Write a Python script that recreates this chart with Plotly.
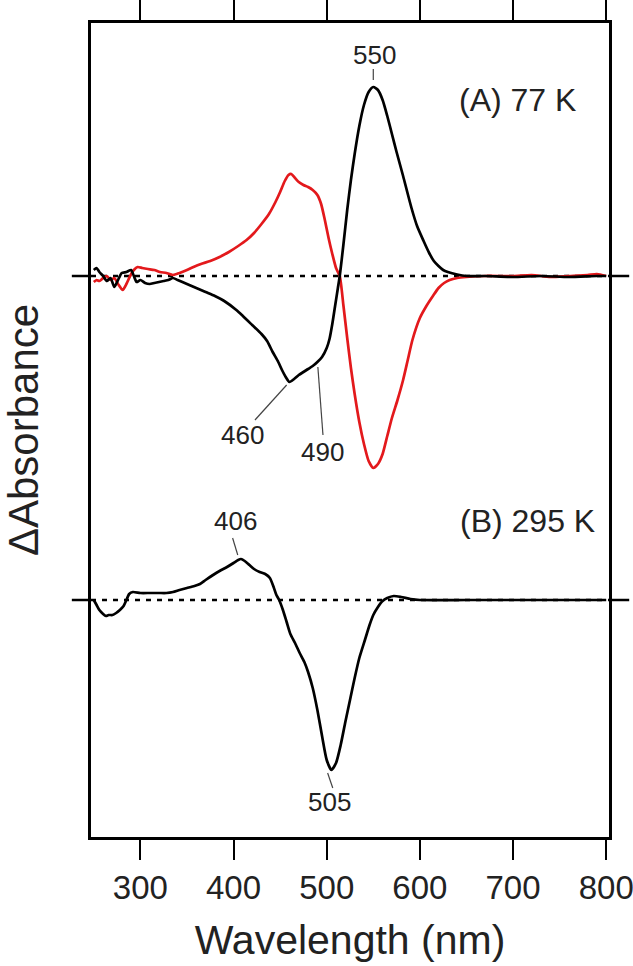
import plotly.graph_objects as go

# ---- data (arbitrary ΔAbsorbance units) ----
wl_a_black = [250,253,256,260,264,268,272,275,277,280,285,290,293,296,300,305,310,315,320,325,330,335,340,350,360,370,380,390,403,410,420,430,436,442,448,452,456,460,465,470,475,480,485,490,495,500,503,506,509,512,514,518,522,526,530,535,540,545,550,555,560,565,570,575,582,591,597,604,610,615,620,625,630,640,650,670,700,730,760,790,800]
abs_a_black = [0.06,0.08,0.04,0.0,-0.05,-0.02,-0.11,-0.06,-0.02,0.03,0.04,0.06,0.0,-0.06,-0.04,-0.07,-0.08,-0.07,-0.06,-0.05,-0.04,-0.02,-0.04,-0.08,-0.12,-0.16,-0.20,-0.25,-0.34,-0.40,-0.49,-0.58,-0.65,-0.76,-0.86,-0.94,-1.01,-1.06,-1.03,-0.99,-0.96,-0.93,-0.90,-0.86,-0.81,-0.72,-0.63,-0.48,-0.30,-0.12,0.0,0.32,0.66,0.96,1.22,1.50,1.71,1.84,1.89,1.86,1.76,1.60,1.42,1.24,1.00,0.68,0.50,0.35,0.23,0.15,0.10,0.06,0.04,0.015,0.0,0.0,-0.01,0.0,-0.01,0.0,0.0]

wl_a_red = [250,253,256,260,264,268,272,276,281,285,289,293,297,302,308,315,321,328,335,342,350,357,365,375,385,395,405,414,422,430,438,445,450,455,459,462,466,470,475,480,485,490,494,498,502,506,510,514,518,522,526,530,535,540,545,550,555,560,565,570,576,582,587,592,600,607,614,620,626,632,640,650,670,700,720,740,760,780,790,800]
abs_a_red = [-0.06,-0.04,-0.05,-0.02,0.0,-0.04,-0.02,-0.08,-0.14,-0.08,0.0,0.06,0.09,0.08,0.07,0.06,0.04,0.03,0.01,0.03,0.06,0.09,0.12,0.15,0.19,0.24,0.30,0.36,0.43,0.52,0.62,0.74,0.84,0.95,1.01,1.02,0.98,0.94,0.91,0.89,0.86,0.81,0.72,0.56,0.38,0.22,0.08,0.0,-0.30,-0.62,-0.92,-1.18,-1.46,-1.68,-1.85,-1.92,-1.88,-1.78,-1.60,-1.42,-1.24,-1.04,-0.84,-0.64,-0.42,-0.30,-0.20,-0.12,-0.07,-0.04,-0.02,-0.01,0.0,0.0,0.01,-0.01,0.0,0.01,0.02,0.0]

wl_b = [250,253,256,260,263,266,270,274,278,282,285,288,292,300,310,320,328,335,342,350,358,364,370,378,385,393,400,405,408,412,417,422,428,434,439,443,446,449,453,457,461,466,471,476,480,485,490,495,500,505,510,515,520,525,530,535,541,546,550,555,560,565,572,580,590,600,650,700,750,800]
abs_b = [0.0,-0.05,-0.10,-0.14,-0.16,-0.15,-0.15,-0.13,-0.10,-0.06,0.0,0.06,0.08,0.07,0.07,0.07,0.07,0.08,0.10,0.12,0.14,0.16,0.20,0.25,0.29,0.33,0.37,0.40,0.41,0.39,0.35,0.31,0.28,0.26,0.22,0.13,0.05,0.0,-0.10,-0.22,-0.34,-0.43,-0.53,-0.62,-0.72,-0.88,-1.10,-1.36,-1.60,-1.70,-1.63,-1.45,-1.22,-1.00,-0.78,-0.58,-0.40,-0.25,-0.15,-0.07,-0.01,0.02,0.04,0.03,0.01,0.0,0.0,0.0,0.0,0.0]

B_OFFSET = -3.24          # vertical offset of panel (B) trace
tick_vals = [300, 400, 500, 600, 700, 800]
peak_labels = ["550", "460", "490", "406", "505"]

FONT = "Arial, 'Liberation Sans', Helvetica, sans-serif"
RED = "#e3191c"

fig = go.Figure()
fig.add_trace(go.Scatter(x=wl_a_red, y=abs_a_red, mode="lines",
                         line=dict(color=RED, width=2.7, shape="spline", smoothing=0.6),
                         showlegend=False, hoverinfo="skip"))
fig.add_trace(go.Scatter(x=wl_a_black, y=abs_a_black, mode="lines",
                         line=dict(color="black", width=2.7, shape="spline", smoothing=0.6),
                         showlegend=False, hoverinfo="skip"))
fig.add_trace(go.Scatter(x=wl_b, y=[v + B_OFFSET for v in abs_b], mode="lines",
                         line=dict(color="black", width=2.7, shape="spline", smoothing=0.6),
                         showlegend=False, hoverinfo="skip"))

shapes = []
for base in (0.0, B_OFFSET):
    shapes.append(dict(type="line", xref="paper", yref="y", x0=0, x1=1, y0=base, y1=base,
                       line=dict(color="black", width=2.5, dash="5px,6px"), layer="below"))
    shapes.append(dict(type="line", xref="paper", yref="y", x0=-0.037, x1=0, y0=base, y1=base,
                       line=dict(color="black", width=2.5)))
    shapes.append(dict(type="line", xref="paper", yref="y", x0=1, x1=1.039, y0=base, y1=base,
                       line=dict(color="black", width=2.5)))

# leader lines for peak labels
leaders = [((550, 2.07), (550, 1.96)),
           ((423, -1.44), (457, -1.09)),
           ((496, -1.59), (490.5, -0.91)),
           ((399, -2.62), (404.5, -2.79)),
           ((501, -4.97), (506.5, -5.12))]
for (xa, ya), (xb, yb) in leaders:
    shapes.append(dict(type="line", xref="x", yref="y", x0=xa, y0=ya, x1=xb, y1=yb,
                       line=dict(color="#444", width=1.2)))

label_pos = [(551, 2.21), (410, -1.59), (496, -1.76), (402.5, -2.45), (503.5, -5.26)]
annotations = []
for txt, (x, y) in zip(peak_labels, label_pos):
    annotations.append(dict(x=x, y=y, xref="x", yref="y", text=txt, showarrow=False,
                            font=dict(family=FONT, size=26, color="#222")))
annotations.append(dict(x=705, y=1.76, xref="x", yref="y", text="(A) 77 K", showarrow=False,
                        font=dict(family=FONT, size=32, color="#222")))
annotations.append(dict(x=715, y=-2.45, xref="x", yref="y", text="(B) 295 K", showarrow=False,
                        font=dict(family=FONT, size=32, color="#222")))

fig.update_layout(
    width=633, height=966,
    margin=dict(l=91, r=24, t=23, b=129, autoexpand=False),
    paper_bgcolor="white", plot_bgcolor="white",
    shapes=shapes, annotations=annotations,
    font=dict(family=FONT, color="#222"),
    xaxis=dict(range=[247, 803], tickvals=tick_vals, ticks="outside", ticklen=20,
               tickwidth=2, tickcolor="black", showline=True, linewidth=2.5,
               linecolor="black", mirror="ticks", showgrid=False, zeroline=False,
               automargin=False, ticklabeloverflow="allow",
               tickfont=dict(family=FONT, size=33, color="#222"),
               title=dict(text="Wavelength (nm)", font=dict(family=FONT, size=41, color="#222"),
                          standoff=20)),
    yaxis=dict(range=[-5.61, 2.53], showticklabels=False, ticks="", showline=True,
               linewidth=2.5, linecolor="black", mirror=True, showgrid=False,
               zeroline=False, automargin=False,
               title=dict(text="ΔAbsorbance", font=dict(family=FONT, size=42, color="#222"),
                          standoff=53)),
)

fig.write_html("out.html", config={"displayModeBar": False},
               post_script="document.body.style.margin='0';")
